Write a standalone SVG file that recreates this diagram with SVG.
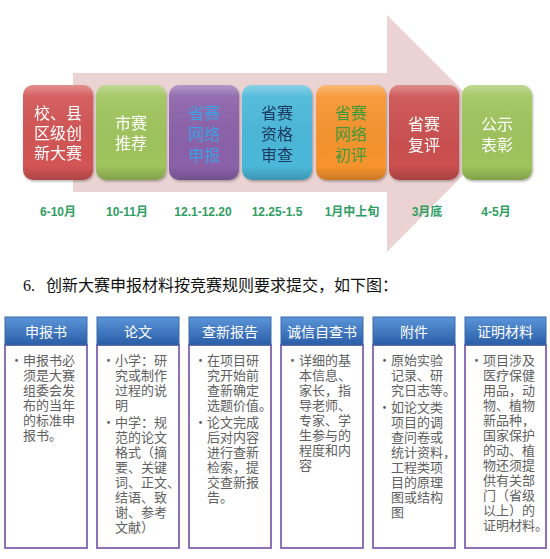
<svg xmlns="http://www.w3.org/2000/svg" width="550" height="559" viewBox="0 0 550 559">
<defs>
<linearGradient id="gloss" x1="0" y1="0" x2="0" y2="1">
<stop offset="0" stop-color="#fff" stop-opacity="0.35"/>
<stop offset="0.12" stop-color="#fff" stop-opacity="0.08"/>
<stop offset="0.85" stop-color="#000" stop-opacity="0"/>
<stop offset="1" stop-color="#000" stop-opacity="0.18"/>
</linearGradient>
<linearGradient id="hdr" x1="0" y1="0" x2="0" y2="1">
<stop offset="0" stop-color="#5b95d8"/>
<stop offset="1" stop-color="#2a5ea8"/>
</linearGradient>
<filter id="sh" x="-10%" y="-10%" width="130%" height="130%">
<feDropShadow dx="1" dy="1.5" stdDeviation="1.2" flood-color="#000" flood-opacity="0.3"/>
</filter>
</defs>
<style>
.step text{font-family:"Noto Sans CJK SC","Noto Sans",sans-serif;font-size:16px;text-anchor:middle}
.date{font-family:"Liberation Sans","Noto Sans CJK SC",sans-serif;font-size:12px;font-weight:bold;fill:#2f9e62;text-anchor:middle}
.hd{font-family:"Noto Sans CJK SC",sans-serif;font-size:14px;fill:#fff;text-anchor:middle}
.bd{font-family:"Noto Sans CJK SC",sans-serif;font-size:13px;fill:#606060}
.bodybox{fill:#fff;stroke:#9070b4;stroke-width:2}
.hbox{fill:url(#hdr);stroke:#3a68a8;stroke-width:1}
</style>
<rect width="550" height="559" fill="#fff"/>
<g id="arrow">
<polygon points="73,73 387,73 387,15 505,133 387,252 387,192 73,192" fill="#ebd3d4"/>
</g>
<g id="s1" class="step" filter="url(#sh)">
<rect x="23" y="85" width="70" height="95" rx="10" fill="#d35454"/>
<rect x="23" y="85" width="70" height="95" rx="10" fill="url(#gloss)"/>
<text fill="#fff" x="58" y="119">校、县</text>
<text fill="#fff" x="58" y="139">区级创</text>
<text fill="#fff" x="58" y="159">新大赛</text>
</g>
<g id="s2" class="step" filter="url(#sh)">
<rect x="96" y="85" width="70" height="95" rx="10" fill="#9fc45c"/>
<rect x="96" y="85" width="70" height="95" rx="10" fill="url(#gloss)"/>
<text fill="#fff" x="131" y="129">市赛</text>
<text fill="#fff" x="131" y="149">推荐</text>
</g>
<g id="s3" class="step" filter="url(#sh)">
<rect x="169" y="85" width="70" height="95" rx="10" fill="#8b62aa"/>
<rect x="169" y="85" width="70" height="95" rx="10" fill="url(#gloss)"/>
<text fill="#3f9fe2" x="204" y="119">省赛</text>
<text fill="#3f9fe2" x="204" y="140">网络</text>
<text fill="#3f9fe2" x="204" y="161">申报</text>
</g>
<g id="s4" class="step" filter="url(#sh)">
<rect x="242" y="85" width="70" height="95" rx="10" fill="#4bb8da"/>
<rect x="242" y="85" width="70" height="95" rx="10" fill="url(#gloss)"/>
<text fill="#1e3a60" x="277" y="119">省赛</text>
<text fill="#1e3a60" x="277" y="140">资格</text>
<text fill="#1e3a60" x="277" y="161">审查</text>
</g>
<g id="s5" class="step" filter="url(#sh)">
<rect x="316" y="85" width="70" height="95" rx="10" fill="#f7942e"/>
<rect x="316" y="85" width="70" height="95" rx="10" fill="url(#gloss)"/>
<text fill="#3c9a3a" x="351" y="119">省赛</text>
<text fill="#3c9a3a" x="351" y="140">网络</text>
<text fill="#3c9a3a" x="351" y="161">初评</text>
</g>
<g id="s6" class="step" filter="url(#sh)">
<rect x="389" y="85" width="70" height="95" rx="10" fill="#cc5050"/>
<rect x="389" y="85" width="70" height="95" rx="10" fill="url(#gloss)"/>
<text fill="#fff" x="424" y="130">省赛</text>
<text fill="#fff" x="424" y="151">复评</text>
</g>
<g id="s7" class="step" filter="url(#sh)">
<rect x="462" y="85" width="70" height="95" rx="10" fill="#9fc45c"/>
<rect x="462" y="85" width="70" height="95" rx="10" fill="url(#gloss)"/>
<text fill="#fff" x="497" y="130">公示</text>
<text fill="#fff" x="497" y="151">表彰</text>
</g>
<g id="dates">
<text class="date" x="58" y="216">6-10月</text>
<text class="date" x="127" y="216">10-11月</text>
<text class="date" x="203" y="216">12.1-12.20</text>
<text class="date" x="277" y="216">12.25-1.5</text>
<text class="date" x="352" y="216">1月中上旬</text>
<text class="date" x="427" y="216">3月底</text>
<text class="date" x="496" y="216">4-5月</text>
</g>
<g id="heading" font-size="16" fill="#111">
<text x="23" y="291" font-family="'Liberation Serif',serif">6.</text>
<text x="46" y="291" font-family="'Noto Sans CJK SC',sans-serif">创新大赛申报材料按竞赛规则要求提交，如下图：</text>
</g>
<g id="c1">
<rect class="bodybox" x="5" y="345" width="82" height="203"/>
<rect class="hbox" x="5" y="317" width="82" height="28"/>
<text class="hd" x="46" y="337">申报书</text>
<text class="bd" x="10" y="365">•</text>
<text class="bd" x="23" y="365">申报书必</text>
<text class="bd" x="23" y="380">须是大赛</text>
<text class="bd" x="23" y="395">组委会发</text>
<text class="bd" x="23" y="410">布的当年</text>
<text class="bd" x="23" y="425">的标准申</text>
<text class="bd" x="23" y="440">报书。</text>
</g>
<g id="c2">
<rect class="bodybox" x="97" y="345" width="82" height="203"/>
<rect class="hbox" x="97" y="317" width="82" height="28"/>
<text class="hd" x="138" y="337">论文</text>
<text class="bd" x="102" y="365">•</text>
<text class="bd" x="115" y="365">小学：研</text>
<text class="bd" x="115" y="380">究或制作</text>
<text class="bd" x="115" y="395">过程的说</text>
<text class="bd" x="115" y="410">明</text>
<text class="bd" x="102" y="427">•</text>
<text class="bd" x="115" y="427">中学：规</text>
<text class="bd" x="115" y="442">范的论文</text>
<text class="bd" x="115" y="457">格式（摘</text>
<text class="bd" x="115" y="472">要、关键</text>
<text class="bd" x="115" y="487">词、正文、</text>
<text class="bd" x="115" y="502">结语、致</text>
<text class="bd" x="115" y="517">谢、参考</text>
<text class="bd" x="115" y="532">文献）</text>
</g>
<g id="c3">
<rect class="bodybox" x="189" y="345" width="82" height="203"/>
<rect class="hbox" x="189" y="317" width="82" height="28"/>
<text class="hd" x="230" y="337">查新报告</text>
<text class="bd" x="194" y="365">•</text>
<text class="bd" x="207" y="365">在项目研</text>
<text class="bd" x="207" y="380">究开始前</text>
<text class="bd" x="207" y="395">查新确定</text>
<text class="bd" x="207" y="410">选题价值。</text>
<text class="bd" x="194" y="427">•</text>
<text class="bd" x="207" y="427">论文完成</text>
<text class="bd" x="207" y="442">后对内容</text>
<text class="bd" x="207" y="457">进行查新</text>
<text class="bd" x="207" y="472">检索，提</text>
<text class="bd" x="207" y="487">交查新报</text>
<text class="bd" x="207" y="502">告。</text>
</g>
<g id="c4">
<rect class="bodybox" x="281" y="345" width="82" height="203"/>
<rect class="hbox" x="281" y="317" width="82" height="28"/>
<text class="hd" x="322" y="337">诚信自查书</text>
<text class="bd" x="286" y="365">•</text>
<text class="bd" x="299" y="365">详细的基</text>
<text class="bd" x="299" y="380">本信息、</text>
<text class="bd" x="299" y="395">家长，指</text>
<text class="bd" x="299" y="410">导老师、</text>
<text class="bd" x="299" y="425">专家、学</text>
<text class="bd" x="299" y="440">生参与的</text>
<text class="bd" x="299" y="455">程度和内</text>
<text class="bd" x="299" y="470">容</text>
</g>
<g id="c5">
<rect class="bodybox" x="373" y="345" width="82" height="203"/>
<rect class="hbox" x="373" y="317" width="82" height="28"/>
<text class="hd" x="414" y="337">附件</text>
<text class="bd" x="378" y="365">•</text>
<text class="bd" x="391" y="365">原始实验</text>
<text class="bd" x="391" y="380">记录、研</text>
<text class="bd" x="391" y="395">究日志等。</text>
<text class="bd" x="378" y="412">•</text>
<text class="bd" x="391" y="412">如论文类</text>
<text class="bd" x="391" y="427">项目的调</text>
<text class="bd" x="391" y="442">查问卷或</text>
<text class="bd" x="391" y="457">统计资料，</text>
<text class="bd" x="391" y="472">工程类项</text>
<text class="bd" x="391" y="487">目的原理</text>
<text class="bd" x="391" y="502">图或结构</text>
<text class="bd" x="391" y="517">图</text>
</g>
<g id="c6">
<rect class="bodybox" x="465" y="345" width="81" height="203"/>
<rect class="hbox" x="465" y="317" width="81" height="28"/>
<text class="hd" x="505" y="337">证明材料</text>
<text class="bd" x="470" y="365">•</text>
<text class="bd" x="483" y="365">项目涉及</text>
<text class="bd" x="483" y="380">医疗保健</text>
<text class="bd" x="483" y="395">用品，动</text>
<text class="bd" x="483" y="410">物、植物</text>
<text class="bd" x="483" y="425">新品种，</text>
<text class="bd" x="483" y="440">国家保护</text>
<text class="bd" x="483" y="455">的动、植</text>
<text class="bd" x="483" y="470">物还须提</text>
<text class="bd" x="483" y="485">供有关部</text>
<text class="bd" x="483" y="500">门（省级</text>
<text class="bd" x="483" y="515">以上）的</text>
<text class="bd" x="483" y="530">证明材料。</text>
</g>
</svg>
